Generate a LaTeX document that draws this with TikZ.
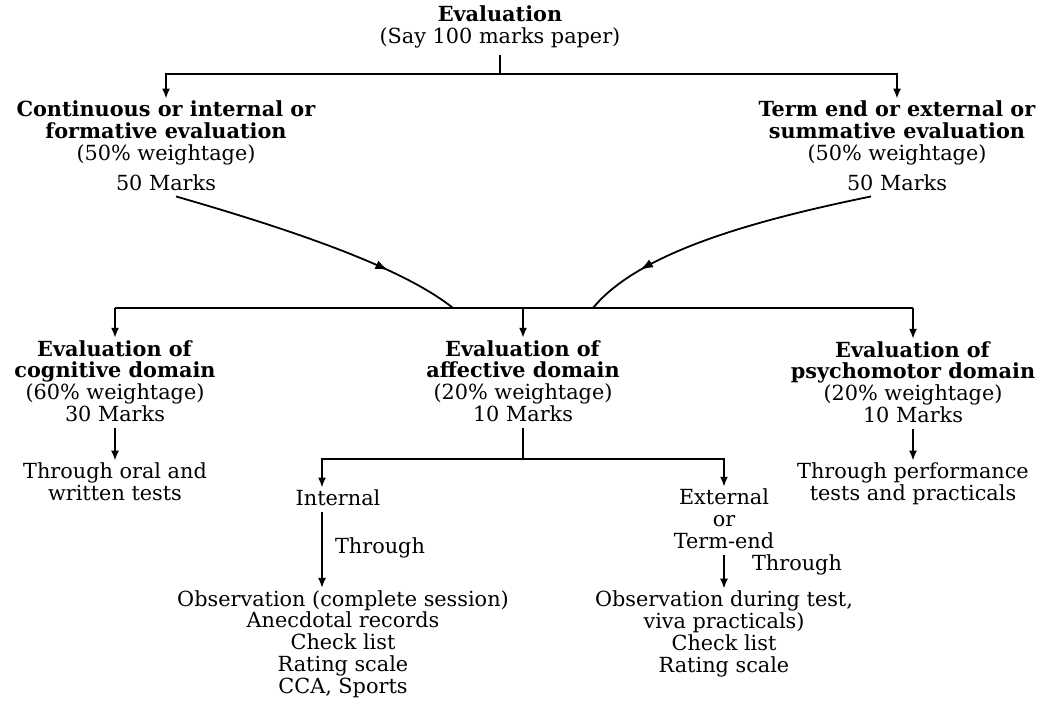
\documentclass[tikz,border=0pt]{standalone}
\usepackage{fontspec}
\setmainfont{DejaVu Serif}
\usetikzlibrary{arrows.meta,decorations.markings,calc}

\begin{document}
\begin{tikzpicture}[x=0.5pt,y=-0.5pt,
    every node/.style={align=center,inner sep=0pt,font=\fontsize{10.4}{10.9}\selectfont},
    line/.style={line width=0.9pt},
    arr/.style={line width=0.9pt,-{Latex[length=5pt,width=4pt]},shorten <=3pt,shorten >=1pt},
    midarr/.style={line width=0.9pt,postaction={decorate},
        decoration={markings,mark=at position #1 with {\arrow{Latex[length=6.5pt,width=4.5pt]}}}}]

    \useasboundingbox (0,0) rectangle (1044,707);

    %top
    \node (eval) at (500,27) {\textbf{Evaluation}\\(Say 100 marks paper)};
    \node (cont) at (166,133) {\textbf{Continuous or internal or}\\\textbf{formative evaluation}\\(50\% weightage)};
    \node (contm) at (166,183) {50 Marks};
    \node (term) at (897,133) {\textbf{Term end or external or}\\\textbf{summative evaluation}\\(50\% weightage)};
    \node (termm) at (897,183) {50 Marks};

    %domains
    \node (cog) at (115,381) {\textbf{Evaluation of}\\\textbf{cognitive domain}\\(60\% weightage)\\30 Marks};
    \node (aff) at (523,381) {\textbf{Evaluation of}\\\textbf{affective domain}\\(20\% weightage)\\10 Marks};
    \node (psy) at (913,382) {\textbf{Evaluation of}\\\textbf{psychomotor domain}\\(20\% weightage)\\10 Marks};
    \node (cogt) at (115,482) {Through oral and\\written tests};
    \node (psyt) at (913,484) {Through performance\\tests and practicals};

    %affective branches
    \node (int) at (338,498) {Internal};
    \node (ext) at (724,519) {External\\or\\Term-end};
    \node (intl) at (343,644) {Observation (complete session)\\Anecdotal records\\Check list\\Rating scale\\CCA, Sports};
    \node (extl) at (724,634) {Observation during test,\\viva practicals)\\Check list\\Rating scale};
    \node (thr1) at (380,548) {Through};
    \node (thr2) at (797,565) {Through};

    \coordinate (top) at (500,74);
    \coordinate (mid) at (523,308);
    \coordinate (jl) at (453,308);
    \coordinate (jr) at (593,308);
    \coordinate (ab) at (523,459);
    \coordinate (ix) at (322,0);

    %splits
    \draw[line,shorten <=3pt] (eval.south) -- (top);
    \draw[arr,shorten <=0pt] (top) -| (cont.north);
    \draw[arr,shorten <=0pt] (top) -| (term.north);

    %marks to domains
    \draw[midarr=0.75] ($(contm.south)+(10,5)$) .. controls (296,231) and (403,268) .. (jl);
    \draw[midarr=0.8] ($(termm.south)+(-26,5)$) .. controls (751,221) and (638,253) .. (jr);
    \draw[line] (cog.north |- mid) -- (psy.north |- mid);
    \draw[arr,shorten <=0pt] (cog.north |- mid) -- (cog.north);
    \draw[arr,shorten <=0pt] (mid) -- (aff.north);
    \draw[arr,shorten <=0pt] (psy.north |- mid) -- (psy.north);
    \draw[arr] (cog.south) -- (cogt.north);
    \draw[arr] (psy.south) -- (psyt.north);

    %internal and external
    \draw[line,shorten <=3pt] (aff.south) -- (ab);
    \draw[arr,shorten <=0pt] (ab) -| (int.north -| ix);
    \draw[arr,shorten <=0pt] (ab) -| (ext.north);
    \draw[arr] (int.south -| ix) -- (intl.north -| ix);
    \draw[arr] (ext.south) -- (extl.north);
\end{tikzpicture}
\end{document}
